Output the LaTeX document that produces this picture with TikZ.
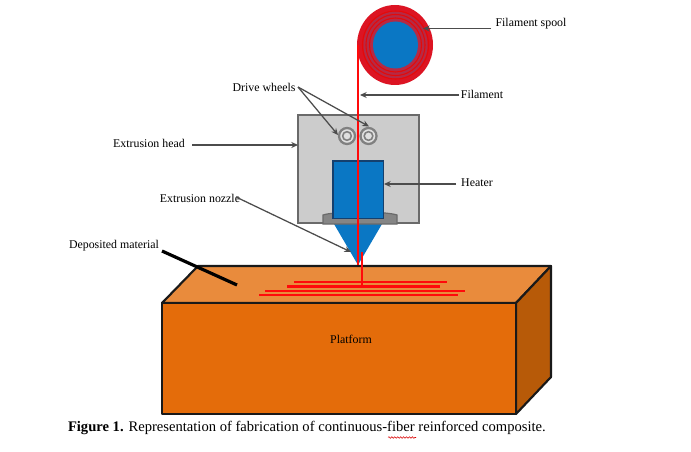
\documentclass[tikz,border=0pt]{standalone}
\usepackage{fontspec}
\setmainfont{Liberation Serif}
\usetikzlibrary{arrows.meta,decorations.pathmorphing}
\definecolor{topface}{HTML}{E98B3C}
\definecolor{frontface}{HTML}{E46C0A}
\definecolor{sideface}{HTML}{B75A08}
\definecolor{nozzleblue}{HTML}{0A77C4}
\definecolor{spoolred}{HTML}{DC1423}
\definecolor{spooldark}{HTML}{B52A45}
\definecolor{headgray}{HTML}{CCCCCC}
\definecolor{edgegray}{HTML}{6A6A6A}
\definecolor{fibre}{HTML}{FF0A0A}
\definecolor{heateredge}{HTML}{15406E}
\tikzset{
  every node/.style={outer sep=0pt},
  lbl/.style={font=\fontsize{8.9}{11}\selectfont, inner sep=0pt, text=black},
  pointer/.style={draw=black!70, line width=0.95pt, -{Stealth[length=5pt,width=4.5pt]}},
  facebox/.style={draw=black!90, line width=1.6pt, line join=round},
  fibreline/.style={draw=fibre, line width=2.2pt},
  wheel/.style={circle, draw=edgegray!85, fill=black!12, line width=1.7pt, inner sep=0pt}
}
\begin{document}
\begin{tikzpicture}[x=0.75pt,y=-0.75pt]
\useasboundingbox (0,0) rectangle (691,452);

% Build platform
\draw[facebox, fill=topface] (162,303) -- (198,266) -- (551,266) -- (516,303) -- cycle;
\draw[facebox, fill=sideface] (516,303) -- (551,266) -- (551,377) -- (516,414) -- cycle;
\node[facebox, fill=frontface, minimum width=265.5pt, minimum height=83pt, inner sep=0pt, anchor=north west] (front) at (162,303) {};
\node[lbl] (platform) at (351,339) {Platform};

% Deposited fibre tracks
\coordinate (t1a) at (294,282); \coordinate (t1b) at (447,282);
\coordinate (t2a) at (287,286.5); \coordinate (t2b) at (440,286.5);
\coordinate (t3a) at (265,291); \coordinate (t3b) at (465,291);
\coordinate (t4a) at (259,295); \coordinate (t4b) at (458,295);
\draw[fibreline] (t1a) -- (t1b);
\draw[fibreline] (t2a) -- (t2b);
\draw[fibreline] (t3a) -- (t3b);
\draw[fibreline] (t4a) -- (t4b);

% Filament spool: wound turns around a blue hub
\fill[spoolred] (395,45) circle [x radius=38, y radius=40];
\fill[spooldark] (395.5,45) circle [x radius=32, y radius=33.5];
\foreach \r in {33,29.5,26}
  \draw[fibre!90!black, line width=0.8pt] (395.5,45) circle [x radius=\r, y radius=\r+1];
\fill[nozzleblue] (395.5,45) circle [x radius=22.5, y radius=23.5];

% Extrusion head
\node[draw=edgegray, fill=headgray, line width=1.3pt, minimum width=91pt, minimum height=81pt, inner sep=0pt, anchor=north west] (head) at (298,115) {};
\node[wheel, minimum size=12pt] (wheelA) at (347,136) {};
\node[wheel, minimum size=6.5pt, line width=1.2pt] at (347,136) {};
\node[wheel, minimum size=12pt] (wheelB) at (368.5,136) {};
\node[wheel, minimum size=6.5pt, line width=1.2pt] at (368.5,136) {};

% Nozzle, flange and heater block
\fill[nozzleblue] (334,224) -- (382,224) -- (358,265) -- cycle;
\draw[draw=edgegray, fill=black!48, line width=0.9pt] (323,224) -- (323,215) .. controls (335,211) and (385,211) .. (397,215) -- (397,224) -- cycle;
\node[draw=heateredge, fill=nozzleblue, line width=1.1pt, minimum width=38pt, minimum height=43pt, inner sep=0pt, anchor=north west] (heater) at (333,161) {};

% Filament path
\coordinate (fTop) at (358,45);
\coordinate (fTip) at (358,265);
\coordinate (dTop) at (362,252);
\coordinate (dEnd) at (362,285);
\draw[fibreline] (fTop) -- (fTip);
\draw[fibreline] (dTop) -- (dEnd);

% Labels and leaders
\node[lbl] (lspool) at (531,24) {Filament spool};
\node[lbl] (ldrive) at (264,87) {Drive wheels};
\node[lbl] (lfil) at (482,94) {Filament};
\node[lbl] (lhead) at (149,143) {Extrusion head};
\node[lbl] (lheater) at (477,183) {Heater};
\node[lbl] (lnozzle) at (200,198) {Extrusion nozzle};
\node[lbl] (ldep) at (114,246) {Deposited material};

\coordinate (pSpool) at (423,28.5);
\coordinate (sSpool) at (491,28.5);
\coordinate (pFil) at (360,95);
\coordinate (sFil) at (459,95);
\coordinate (pHeat) at (384,184);
\coordinate (sHeat) at (456,184);
\coordinate (pHead) at (298,145);
\coordinate (sHead) at (192,145);
\coordinate (sDrive) at (298,87);
\coordinate (pDriveA) at (338,135);
\coordinate (pDriveB) at (369,126.5);
\coordinate (sNoz) at (236,197);
\coordinate (pNoz) at (351,252);
\coordinate (barA) at (162,251);
\coordinate (barB) at (237,285);

\draw[pointer] (sSpool) -- (pSpool);
\draw[pointer] (sFil) -- (pFil);
\draw[pointer] (sHeat) -- (pHeat);
\draw[pointer] (sHead) -- (pHead);
\draw[pointer] (sDrive) -- (pDriveA);
\draw[pointer] (sDrive) -- (pDriveB);
\draw[pointer] (sNoz) -- (pNoz);
\draw[black, line width=2.4pt] (barA) -- (barB);

% Caption with its spell-check underline
\node[font=\fontsize{10.95}{13}\selectfont, inner sep=0pt, anchor=west] (caption) at (68,428) {\textbf{Figure 1.} Representation of fabrication of continuous-fiber reinforced composite.};
\coordinate (wavyA) at (388,437.5);
\coordinate (wavyB) at (416,437.5);
\draw[red!85!black, line width=0.4pt, decorate, decoration={snake, amplitude=0.6pt, segment length=2.2pt}] (wavyA) -- (wavyB);
\end{tikzpicture}
\end{document}
